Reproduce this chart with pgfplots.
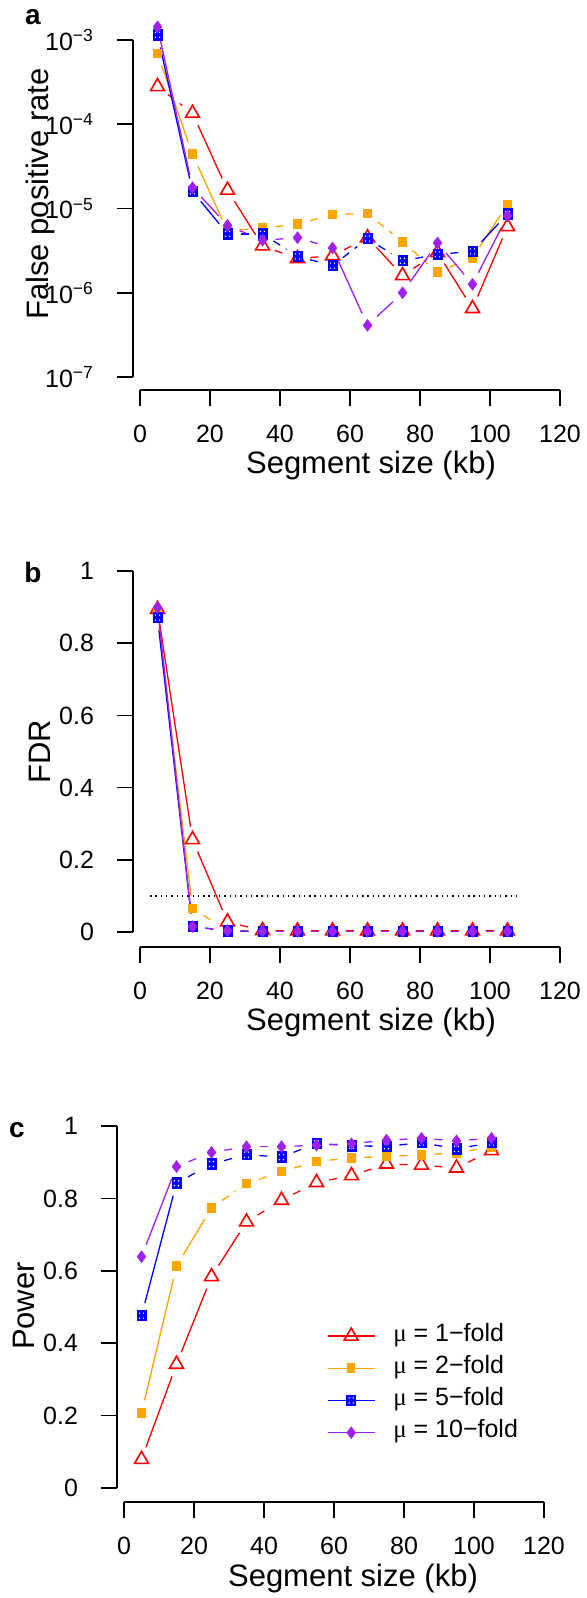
\documentclass[border=0pt]{standalone}
\usepackage{fontspec}
\setmainfont{Liberation Sans}
\newfontfamily\mufont{Liberation Serif}
\usepackage{pgfplots}
\usepackage{pgfplotstable}
\pgfplotsset{compat=1.18}

\definecolor{rOrange}{HTML}{FFA500}
\definecolor{rPurple}{HTML}{A020F0}

\newcommand\tfont{\fontsize{12.5}{15}\selectfont}
\newcommand\lfont{\fontsize{15.5}{18}\selectfont}

\pgfdeclareplotmark{sqplus}{%
  \pgfpathrectangle{\pgfpoint{-\pgfplotmarksize}{-1.15\pgfplotmarksize}}{\pgfpoint{2\pgfplotmarksize}{2.3\pgfplotmarksize}}%
  \pgfusepathqfill
  \begin{pgfscope}%
  \pgfsetfillcolor{white}%
  \pgfpathcircle{\pgfpoint{-0.4\pgfplotmarksize}{0.5\pgfplotmarksize}}{0.16\pgfplotmarksize}%
  \pgfpathcircle{\pgfpoint{0.4\pgfplotmarksize}{0.5\pgfplotmarksize}}{0.16\pgfplotmarksize}%
  \pgfpathcircle{\pgfpoint{-0.4\pgfplotmarksize}{-0.5\pgfplotmarksize}}{0.16\pgfplotmarksize}%
  \pgfpathcircle{\pgfpoint{0.4\pgfplotmarksize}{-0.5\pgfplotmarksize}}{0.16\pgfplotmarksize}%
  \pgfusepathqfill
  \end{pgfscope}%
}

\tikzset{axl/.style={line width=0.75pt, black}}
\pgfplotsset{
  base/.style={scale only axis, width=213.5pt, xmin=-2, xmax=120, xtick={0,20,...,120},
    axis x line=bottom, axis y line=left, axis line style={draw=none,-},
    tick align=outside, major tick length=8pt, tick style={black,line width=0.75pt},
    clip=false, ticklabel style={font=\tfont}, /pgf/number format/assume math mode=true,
    xticklabel style={anchor=center, yshift=-14pt, inner sep=0.5pt},
    yticklabel style={anchor=east, xshift=-8pt}},
  seg/.style={line width=0.65pt, shorten >=6.5pt, shorten <=6.5pt, no markers, forget plot},
  ss/.style={solid}, sd/.style={dash pattern=on 4pt off 3.5pt},
  cr/.style={red}, co/.style={rOrange}, cb/.style={blue}, cp/.style={rPurple},
  mr/.style={only marks, forget plot, red, mark=triangle, mark size=4pt, mark options={solid, line width=0.8pt}},
  mo/.style={only marks, forget plot, rOrange, mark=square*, mark size=1.8pt, mark options={solid, yscale=1.2, line width=0pt}},
  mb/.style={only marks, forget plot, blue, mark=sqplus, mark size=2.5pt, mark options={solid, fill=blue}},
  mp/.style={only marks, forget plot, rPurple, mark=diamond*, mark size=3pt, mark options={solid, line width=0.2pt}},
}

\def\segone#1#2#3#4/#5\segend{\addplot[seg,#3,s#5,restrict x to domain=\the\numexpr#4*10+4\relax:\the\numexpr#4*10+16\relax] table[x=x,y=#2]{#1};}
\newcommand\segs[4]{\pgfplotsinvokeforeach{#4}{\segone{#1}{#2}{#3}##1\segend}}

\pgfplotstableread{
x r o b p
5 2.8e-4 6.9e-4 1.15e-3 1.43e-3
15 1.35e-4 4.4e-5 1.6e-5 1.77e-5
25 1.65e-5 5.4e-6 5.0e-6 6.3e-6
35 3.6e-6 5.9e-6 5.0e-6 4.2e-6
45 2.55e-6 6.5e-6 2.7e-6 4.5e-6
55 2.75e-6 8.5e-6 2.1e-6 3.4e-6
65 4.5e-6 8.7e-6 4.4e-6 4.1e-7
75 1.6e-6 4.0e-6 2.4e-6 1.0e-6
85 3.0e-6 1.76e-6 2.85e-6 3.9e-6
95 6.5e-7 2.6e-6 3.1e-6 1.26e-6
105 6.1e-6 1.12e-5 8.6e-6 8.2e-6
}\dataA

\pgfplotstableread{
x r o b p
5 0.894 0.88 0.871 0.899
15 0.256 0.065 0.015 0.015
25 0.028 0.004 0.003 0.004
35 0.004 0.001 0.001 0.002
45 0.003 0.001 0.001 0.002
55 0.003 0.001 0.001 0.002
65 0.003 0.001 0.001 0.002
75 0.003 0.001 0.001 0.002
85 0.003 0.001 0.002 0.002
95 0.003 0.001 0.001 0.002
105 0.003 0.001 0.001 0.002
}\dataB

\pgfplotstableread{
x r o b p
5 0.079 0.207 0.476 0.639
15 0.342 0.613 0.842 0.888
25 0.584 0.774 0.895 0.927
35 0.735 0.841 0.921 0.943
45 0.795 0.874 0.914 0.943
55 0.844 0.902 0.952 0.947
65 0.863 0.912 0.945 0.951
75 0.895 0.916 0.944 0.961
85 0.892 0.920 0.954 0.966
95 0.884 0.926 0.937 0.959
105 0.932 0.942 0.954 0.966
}\dataC

\begin{document}
\begin{tikzpicture}
\path[use as bounding box] (0,0) rectangle (293pt,-799pt);

% ---------------- panel a
\begin{axis}[base, at={(66.5pt,-195pt)}, anchor=south west, height=183.51pt,
  ymode=log, ymin=7.011e-8, ymax=1.592e-3, yminorticks=false,
  ytick={1e-7,1e-6,1e-5,1e-4,1e-3},
  yticklabels={10\textsuperscript{−7},10\textsuperscript{−6},10\textsuperscript{−5},10\textsuperscript{−4},10\textsuperscript{−3}}]
\segs{\dataA}{r}{cr}{0/d,1/s,2/s,3/d,4/d,5/d,6/s,7/d,8/s,9/s}
\addplot[mr] table[x=x,y=r]{\dataA};
\segs{\dataA}{o}{co}{0/s,1/s,2/d,3/d,4/d,5/d,6/d,7/d,8/d,9/s}
\addplot[mo] table[x=x,y=o]{\dataA};
\segs{\dataA}{b}{cb}{0/s,1/s,2/d,3/d,4/d,5/d,6/d,7/d,8/d,9/s}
\addplot[mb] table[x=x,y=b]{\dataA};
\segs{\dataA}{p}{cp}{0/s,1/s,2/d,3/d,4/d,5/s,6/s,7/s,8/s,9/s}
\addplot[mp] table[x=x,y=p]{\dataA};
\draw[axl] (rel axis cs:0.016393,0) -- (rel axis cs:1,0);
\draw[axl] (axis cs:-2,1e-7) -- (axis cs:-2,1e-3);
\end{axis}

% ---------------- panel b
\begin{axis}[base, at={(66.5pt,-473.5pt)}, anchor=south west, height=197.03pt,
  ymin=-0.04155, ymax=1.05, ytick={0,0.2,0.4,0.6,0.8,1}]
\addplot[forget plot, black, line width=0.6pt, dash pattern=on 0.7pt off 1.95pt] coordinates {(2.9,0.1) (107.4,0.1)};
\segs{\dataB}{r}{cr}{0/s,1/s,2/d,3/d,4/d,5/d,6/d,7/d,8/d,9/d}
\addplot[mr] table[x=x,y=r]{\dataB};
\segs{\dataB}{o}{co}{0/s,1/d,2/d,3/d,4/d,5/d,6/d,7/d,8/d,9/d}
\addplot[mo] table[x=x,y=o]{\dataB};
\segs{\dataB}{b}{cb}{0/s,1/d,2/d,3/d,4/d,5/d,6/d,7/d,8/d,9/d}
\addplot[mb] table[x=x,y=b]{\dataB};
\segs{\dataB}{p}{cp}{0/s,1/d,2/d,3/d,4/d,5/d,6/d,7/d,8/d,9/d}
\addplot[mp] table[x=x,y=p]{\dataB};
\draw[axl] (axis cs:0,-0.04155) -- (axis cs:120,-0.04155);
\draw[axl] (axis cs:-2,0) -- (axis cs:-2,1);
\end{axis}

% ---------------- panel c
\begin{axis}[base, at={(58.5pt,-751pt)}, anchor=south west, height=197.05pt,
  ymin=-0.0387, ymax=1.05, ytick={0,0.2,0.4,0.6,0.8,1},
  legend style={draw=none, fill=none, at={(axis cs:57.9,0.454)}, anchor=north west,
    inner sep=0pt, row sep=4.1pt, column sep=9pt,
    nodes={inner sep=0pt, text height=8.5pt, text depth=3.5pt, font=\tfont}},
  legend cell align=left,
  legend image code/.code={\draw[mark repeat=2, mark phase=2, #1] plot coordinates {(0pt,0pt) (11.75pt,0pt) (23.5pt,0pt)};}]
\segs{\dataC}{r}{cr}{0/s,1/s,2/s,3/d,4/d,5/d,6/d,7/d,8/d,9/d}
\addplot[mr] table[x=x,y=r]{\dataC};
\segs{\dataC}{o}{co}{0/s,1/s,2/d,3/d,4/d,5/d,6/d,7/d,8/d,9/d}
\addplot[mo] table[x=x,y=o]{\dataC};
\segs{\dataC}{b}{cb}{0/s,1/d,2/d,3/d,4/d,5/d,6/d,7/d,8/d,9/d}
\addplot[mb] table[x=x,y=b]{\dataC};
\segs{\dataC}{p}{cp}{0/s,1/d,2/d,3/d,4/d,5/d,6/d,7/d,8/d,9/d}
\addplot[mp] table[x=x,y=p]{\dataC};
\addlegendimage{red, line width=0.65pt, mark=triangle, mark size=4pt, mark options={solid,line width=0.8pt}}
\addlegendentry{{\mufont μ} = 1−fold}
\addlegendimage{rOrange, line width=0.65pt, mark=square*, mark size=1.8pt, mark options={solid, yscale=1.2, line width=0pt}}
\addlegendentry{{\mufont μ} = 2−fold}
\addlegendimage{blue, line width=0.65pt, mark=sqplus, mark size=2.5pt, mark options={solid, fill=blue}}
\addlegendentry{{\mufont μ} = 5−fold}
\addlegendimage{rPurple, line width=0.65pt, mark=diamond*, mark size=3pt, mark options={solid, line width=0.2pt}}
\addlegendentry{{\mufont μ} = 10−fold}
\draw[axl] (axis cs:0,-0.0387) -- (axis cs:120,-0.0387);
\draw[axl] (axis cs:-2,0) -- (axis cs:-2,1);
\end{axis}

% ---------------- titles and panel letters
\node[font=\bfseries\fontsize{14}{16}\selectfont, inner sep=0pt] at (16.5pt,-8.5pt) {a};
\node[rotate=90, font=\lfont, inner sep=0pt] at (20pt,-97pt) {False positive rate};
\node[font=\lfont, inner sep=0pt] at (185.5pt,-232.5pt) {Segment size (kb)};

\node[font=\bfseries\fontsize{14}{16}\selectfont, inner sep=0pt] at (16.5pt,-286pt) {b};
\node[rotate=90, font=\lfont, inner sep=0pt] at (20pt,-375.75pt) {FDR};
\node[font=\lfont, inner sep=0pt] at (185.5pt,-511pt) {Segment size (kb)};

\node[font=\bfseries\fontsize{14}{16}\selectfont, inner sep=0pt] at (8.5pt,-565pt) {c};
\node[rotate=90, font=\lfont, inner sep=0pt] at (12pt,-653pt) {Power};
\node[font=\lfont, inner sep=0pt] at (176.5pt,-789pt) {Segment size (kb)};
\end{tikzpicture}
\end{document}
